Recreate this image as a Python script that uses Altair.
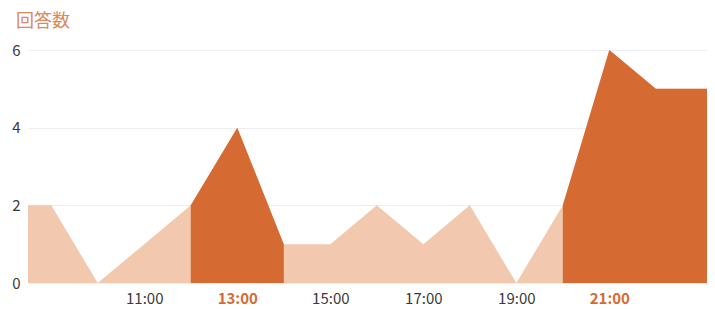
import altair as alt
import pandas as pd

hours = [8, 9, 10, 11, 12, 13, 14, 15, 16, 17, 18, 19, 20, 21, 22, 23, 24]
counts = [2, 2, 0, 1, 2, 4, 1, 1, 2, 1, 2, 0, 2, 6, 5, 5, 5]
highlight_segments = [(12, 14), (20, 24)]
tick_hours = [11, 13, 15, 17, 19, 21]
highlight_ticks = [13, 21]

LIGHT = "#F2C9AE"
DARK = "#D66A33"
FONT = "Noto Sans CJK JP"

base_df = pd.DataFrame({"hour": hours, "count": counts})

xscale = alt.Scale(domain=[8.5, 23.1], nice=False, zero=False)
yscale = alt.Scale(domain=[0, 6], nice=False)

hl_expr = " || ".join(f"datum.value == {t}" for t in highlight_ticks)

xaxis = alt.Axis(
    values=tick_hours,
    labelExpr="datum.value + ':00'",
    grid=False, domain=False, ticks=False,
    labelPadding=8, labelFontSize=15, labelFont=FONT,
    labelColor=alt.ExprRef(expr=f"({hl_expr}) ? '{DARK}' : '#3A3A3A'"),
    labelFontWeight=alt.ExprRef(expr=f"({hl_expr}) ? 'bold' : 'normal'"),
    title=None,
)
yaxis = alt.Axis(
    values=[0, 2, 4, 6],
    grid=True, gridColor="#EEEEEE", domain=False, ticks=False,
    labelPadding=8, labelFontSize=15, labelFont=FONT, labelColor="#3A3A3A",
    title=None,
)

layers = [
    alt.Chart(base_df).mark_area(color=LIGHT, clip=True).encode(
        x=alt.X("hour:Q", scale=xscale, axis=xaxis),
        y=alt.Y("count:Q", scale=yscale, axis=yaxis, stack=None),
    )
]
for a, b in highlight_segments:
    seg_df = base_df[(base_df["hour"] >= a) & (base_df["hour"] <= b)]
    layers.append(
        alt.Chart(seg_df).mark_area(color=DARK, clip=True).encode(
            x=alt.X("hour:Q", scale=xscale),
            y=alt.Y("count:Q", scale=yscale, stack=None),
        )
    )

chart = alt.layer(*layers).properties(
    width=679,
    height=233,
    autosize=alt.AutoSizeParams(type="none"),
    padding={"left": 20, "top": 42, "right": 0, "bottom": 26},
    title=alt.TitleParams(
        "回答数", anchor="start", frame="group",
        dx=-12, offset=12, fontSize=18,
        font=FONT, fontWeight="normal", color="#D9895B",
    ),
).configure_view(stroke=None)

chart.save("out.html", embed_options={"renderer": "svg", "actions": False})
